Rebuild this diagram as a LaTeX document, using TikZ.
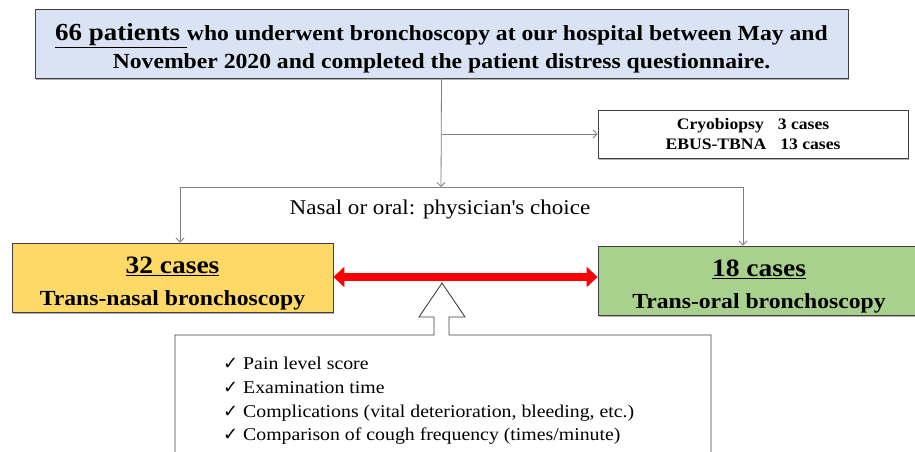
\documentclass[tikz,border=0pt]{standalone}
\usepackage{fontspec}
\setmainfont{Liberation Serif}[FakeStretch=1.1]
\newfontfamily\checkfont{DejaVu Sans}
\usetikzlibrary{arrows.meta,shadows}
\definecolor{topfill}{HTML}{DAE3F3}
\definecolor{yelfill}{HTML}{FFD966}
\definecolor{grnfill}{HTML}{A9D18E}
\definecolor{boxline}{HTML}{404040}
\definecolor{connline}{HTML}{7F7F7F}
\newcommand{\ck}{{\checkfont\fontsize{18}{23.7}\selectfont ✓}\ }
\begin{document}
\begin{tikzpicture}[x=1pt,y=-1pt,
  boxstyle/.style={draw=boxline,line width=0.9pt,inner sep=0pt,align=center,
    drop shadow={shadow xshift=1pt,shadow yshift=-1.5pt,opacity=0.3,fill=black}},
  boxtext/.style={inner sep=0pt,align=center},
  conn/.style={draw=connline,line width=0.8pt,-{Straight Barb[length=4pt,width=8pt]}},
  plainline/.style={draw=connline,line width=0.8pt},
  chk/.style={font=\fontsize{18}{23.7}\selectfont,align=left,inner sep=0pt,anchor=north west}]
\useasboundingbox (0,0) rectangle (915,452);
\fill[white] (0,0) rectangle (915,452);

% top box
\node[boxstyle,fill=topfill,minimum width=813pt,minimum height=69pt] (top) at (441.5,43.5) {};
\node[boxtext,font=\bfseries\fontsize{21.5}{27.5}\selectfont] (toptext) at (441.5,48.5)
  {{\fontsize{24.5}{27.5}\selectfont\underline{66 patients\ }}who underwent bronchoscopy at our hospital between May and\\November 2020 and completed the patient distress questionnaire.};

% cryo box
\node[boxstyle,fill=white,minimum width=310pt,minimum height=48pt,font=\bfseries\fontsize{16}{19.5}\selectfont]
  (cryo) at (753,134) {Cryobiopsy\hspace{14pt}3 cases\\EBUS-TBNA\hspace{14pt}13 cases};

% left and right boxes
\node[boxstyle,fill=yelfill,minimum width=321pt,minimum height=69pt] (left) at (172.5,277.5) {};
\node[boxtext,font=\bfseries\fontsize{21.5}{32}\selectfont] (lefttext) at (172.5,283.5)
  {{\fontsize{25}{32}\selectfont\underline{32 cases}}\\Trans-nasal bronchoscopy};
\node[boxstyle,fill=grnfill,minimum width=322pt,minimum height=69pt] (right) at (759,280.5) {};
\node[boxtext,font=\bfseries\fontsize{21.5}{32}\selectfont] (righttext) at (759,286.5)
  {{\fontsize{25}{32}\selectfont\underline{18 cases}}\\Trans-oral bronchoscopy};

% connectors
\coordinate (split) at (441,187);
\coordinate (mid) at (top.south |- cryo.west);
\coordinate (bl) at (180,187);
\coordinate (br) at (743,187);
\draw[conn] (top.south) -- (split);
\draw[conn] (mid) -- (cryo.west);
\draw[plainline] (bl) -- (br);
\draw[conn] (bl) -- (bl |- left.north);
\draw[conn] (br) -- (br |- right.north);

\node[font=\fontsize{21}{24}\selectfont,inner sep=0pt] (choice) at (440,209) {Nasal or oral: physician\textquotesingle s choice};

% red double arrow
\draw[red,line width=8pt,{Triangle[length=11pt,width=20pt]}-{Triangle[length=11pt,width=20pt]}]
  (left.east |- 0,277) -- (right.west |- 0,277);

% bottom box with hollow arrow
\coordinate (tip) at (442,283);
\draw[boxline,line width=0.9pt,fill=white]
  (175,460) -- (175,335) -- (434,335) -- (434,317) -- (419,317) -- (tip)
  -- (465,317) -- (449,317) -- (449,335) -- (711,335) -- (711,460);

\node[chk] (list) at (223,357) {\ck Pain level score\\
\ck Examination time\\
\ck Complications (vital deterioration, bleeding, etc.)\\
\ck Comparison of cough frequency (times/minute)};
\end{tikzpicture}
\end{document}
